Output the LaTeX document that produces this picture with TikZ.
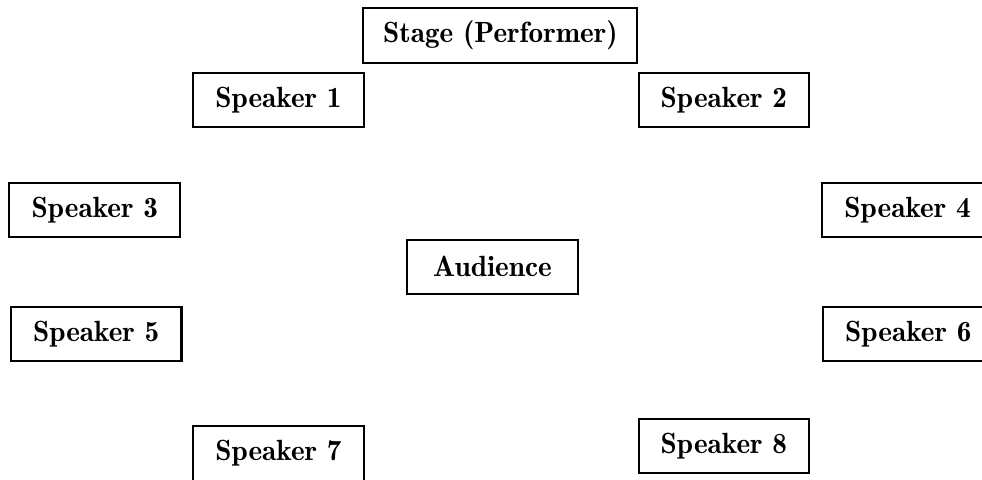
\documentclass[tikz,border=0pt]{standalone}
\usepackage{fontspec}
\newfontfamily\demifont{lmromandemi10-regular.otf}
\begin{document}
\begin{tikzpicture}[
    box/.style={rectangle, draw, thick, minimum width=2.36cm, minimum height=0.75cm, font=\demifont\fontsize{11.5}{13}\selectfont},
    stagebox/.style={box, minimum width=3.79cm}
]

% Frame of the picture
\path[use as bounding box, clip] (0,0) rectangle (13.58,-6.625);

% Stage
\node[stagebox] (stage) at (6.92,-0.49) {Stage (Performer)};

% Speakers round the hall
\node[box] (s1) at (3.85,-1.38) {Speaker 1};
\node[box] (s2) at (10.01,-1.38) {Speaker 2};
\node[box] (s3) at (1.31,-2.90) {Speaker 3};
\node[box] (s4) at (12.55,-2.90) {Speaker 4};
\node[box] (s5) at (1.33,-4.62) {Speaker 5};
\node[box] (s6) at (12.56,-4.62) {Speaker 6};
\node[box] (s7) at (3.85,-6.27) {Speaker 7};
\node[box] (s8) at (10.01,-6.17) {Speaker 8};

% Audience in the middle
\node[box] (aud) at (6.81,-3.69) {Audience};

\end{tikzpicture}
\end{document}
